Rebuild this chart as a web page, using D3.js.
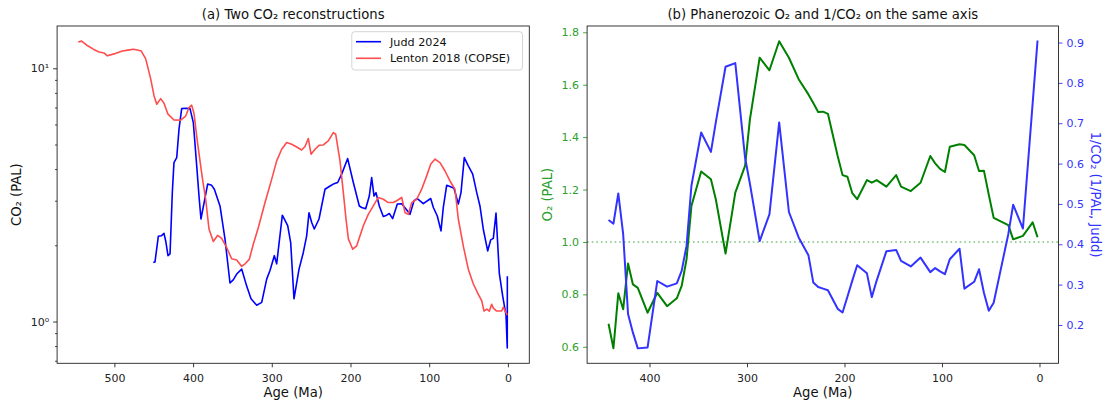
<!DOCTYPE html>
<html><head><meta charset="utf-8">
<script src="https://cdn.jsdelivr.net/npm/d3@7"></script>
<style>body{margin:0;background:#fff} text{font-family:"DejaVu Sans",sans-serif}</style>
</head><body><svg id="c" width="1106" height="404"></svg>
<script>
// ---------- data ----------
const juddAge=[450.6,448.4,444.2,440.4,437,434.8,431.9,429.3,426.4,424.3,420.8,417.9,414.5,409.4,403.9,399.7,395.4,392.5,390,381.5,376.4,373,365.8,359.5,353.1,349,344.6,338.2,331.9,326.4,319.2,312.8,306.5,302.3,296.8,293.8,286.6,279.8,276,271.8,265.4,260,255.7,252.7,249.3,246,240,232.4,226,221.8,216.3,211.2,203.6,196.4,188.8,185.8,180.7,176.1,173.1,170.1,167.6,163.4,158.3,154,150.7,146.4,140.5,134.9,129.5,124.4,119.3,115.1,107.5,98.1,94.7,89.7,85,82.1,77.8,73.6,68.5,63,59.6,55.4,50.3,44.7,39.6,35.5,31.3,25.7,21.9,18.5,15.1,10.9,6.6,2.4,0.8,0.7];
const juddCO2=[1.71,1.72,2.17,2.18,2.23,2.08,1.82,1.85,3.23,4.24,4.44,5.75,6.93,6.95,6.93,6.10,4.12,3.13,2.54,3.49,3.45,3.33,2.86,2.12,1.42,1.46,1.54,1.61,1.38,1.23,1.16,1.19,1.47,1.59,1.82,1.69,2.63,2.39,2.05,1.23,1.61,1.87,2.18,2.69,2.46,2.32,2.54,3.33,3.43,3.49,3.54,3.82,4.40,3.54,2.86,2.82,2.79,3.13,3.70,3.13,3.23,2.86,2.60,2.63,2.67,2.55,2.91,2.92,2.78,2.65,3.0,3.06,2.92,3.06,2.82,2.61,2.28,2.82,3.45,3.41,3.36,2.91,3.23,4.44,4.12,3.82,3.23,2.86,2.32,1.90,2.10,2.13,2.68,1.55,1.26,1.06,0.786,1.51];
const lentonAge=[545.9,541.6,534.4,526.8,519.6,513.2,509,500.5,490,482.7,476,470.9,465.8,460.2,453.8,449.6,446.2,441.2,437,431.9,424.3,415.8,409.4,405.2,401.8,398.9,394.7,388.3,384,379.8,374.3,368.7,363.7,357.3,351,344.6,338.2,334,328.6,323.5,317.1,308.6,300.1,293.8,287.4,281.1,274.7,268.4,262,257.8,253.6,250.1,245.1,239.6,234.5,228.2,221.8,218.8,213.3,209.1,205.7,202.7,197.2,192.1,187.9,183.7,177.4,171,164.7,158.3,152,145.6,141.3,134.9,130.7,126.5,122.2,115.9,109.5,103.2,98.1,92.6,86.3,79.9,73.6,67.2,63,56.7,50.3,44,37.6,33.3,30.4,26.9,23.6,20.6,18.5,14.2,7.9,5.8,0.8];
const lentonCO2=[12.7,12.8,12.3,11.9,11.6,11.5,11.2,11.4,11.7,11.8,11.9,11.8,11.7,10.9,9.06,7.78,7.21,7.59,7.28,6.59,6.25,6.24,6.48,7.0,7.15,6.65,5.17,3.70,3.04,2.32,2.07,2.19,2.13,1.96,1.77,1.75,1.65,1.69,1.76,2.02,2.35,2.95,3.65,4.31,4.79,5.09,5.01,4.89,4.76,4.91,5.28,4.58,4.79,4.97,4.98,5.17,5.57,5.49,4.30,3.23,2.54,2.12,1.93,1.99,2.18,2.39,2.65,2.86,3.09,3.04,2.95,2.95,3.0,3.09,2.69,2.65,2.95,3.04,3.33,3.76,4.18,4.38,4.24,3.93,3.59,3.33,2.54,1.99,1.61,1.41,1.28,1.21,1.10,1.12,1.10,1.17,1.13,1.10,1.10,1.14,1.06];
const phanAge=[442,437,432,427,422,417,412,402,392,382,372,367,362,357,347,337,332,322,312,302,297,287,277,267,257,247,237,232,227,222,217,207,202,197,192,187,177,172,167,157,147,142,132,122,112,107,102,97,92,82,77,67,62,57,52,47,32,27,17,7,2];
const o2PAL=[0.688,0.594,0.804,0.743,0.918,0.838,0.825,0.730,0.806,0.755,0.785,0.832,0.934,1.137,1.269,1.239,1.163,0.956,1.188,1.290,1.468,1.703,1.655,1.766,1.703,1.621,1.563,1.530,1.496,1.497,1.489,1.328,1.255,1.249,1.186,1.163,1.236,1.226,1.236,1.211,1.255,1.211,1.194,1.226,1.328,1.300,1.279,1.267,1.363,1.373,1.370,1.331,1.271,1.272,1.180,1.092,1.064,1.010,1.023,1.075,1.018];
const invCO2=[0.460,0.451,0.526,0.425,0.227,0.181,0.142,0.144,0.309,0.295,0.303,0.334,0.396,0.545,0.677,0.629,0.702,0.840,0.849,0.615,0.550,0.408,0.474,0.702,0.480,0.417,0.373,0.305,0.294,0.290,0.286,0.240,0.231,0.270,0.310,0.348,0.328,0.269,0.310,0.383,0.386,0.359,0.345,0.367,0.331,0.341,0.333,0.326,0.363,0.389,0.290,0.307,0.338,0.280,0.235,0.255,0.425,0.498,0.439,0.750,0.905];
const xTicksA=[500,400,300,200,100,0];
const xTicksB=[400,300,200,100,0];
const o2Ticks=[0.6,0.8,1.0,1.2,1.4,1.6,1.8];
const invTicks=[0.2,0.3,0.4,0.5,0.6,0.7,0.8,0.9];
const logMajor=[1,10];
const logMinor=[0.7,0.8,0.9,2,3,4,5,6,7,8,9];

// ---------- drawing ----------
const svg=d3.select("#c");
svg.append("rect").attr("width",1106).attr("height",404).attr("fill","#fff");
const defs=svg.append("defs");
function clip(id,x0,x1,y0,y1){defs.append("clipPath").attr("id",id).append("rect").attr("x",x0).attr("y",y0).attr("width",x1-x0).attr("height",y1-y0);}
function styleAxis(g,color,labelColor){
  g.select(".domain").remove();
  g.selectAll(".tick line").attr("stroke",color).attr("stroke-width",0.9);
  g.selectAll(".tick text").attr("fill",labelColor).attr("font-size",11).attr("font-family","DejaVu Sans");
}
const T=26,B=363.3;

// Panel A
const aL=57.1,aR=529.3;
const xA=d3.scaleLinear().domain([572.8,-27.2]).range([aL,aR]);
const yA=d3.scaleLog().domain([0.684,14.69]).range([B,T]);
clip("ca",aL,aR,T,B);
const gA=svg.append("g");
const lineA=d3.line().x(d=>xA(d[0])).y(d=>yA(d[1]));
const pA=gA.append("g").attr("clip-path","url(#ca)");
pA.append("path").attr("d",lineA(d3.zip(juddAge,juddCO2))).attr("fill","none").attr("stroke","#0000ff").attr("stroke-width",1.6).attr("stroke-linejoin","round");
pA.append("path").attr("d",lineA(d3.zip(lentonAge,lentonCO2))).attr("fill","none").attr("stroke","#ff4d4d").attr("stroke-width",1.6).attr("stroke-linejoin","round");
gA.append("g").attr("transform",`translate(0,${B})`).call(d3.axisBottom(xA).tickValues(xTicksA).tickSize(4).tickPadding(7).tickFormat(d3.format("d"))).call(g=>styleAxis(g,"#222","#222"));
gA.append("g").attr("transform",`translate(${aL},0)`).call(d3.axisLeft(yA).tickValues(logMajor).tickSize(4).tickPadding(4).tickFormat(d=>d===1?"10⁰":"10¹")).call(g=>styleAxis(g,"#222","#222"));
gA.append("g").attr("transform",`translate(${aL},0)`).call(d3.axisLeft(yA).tickValues(logMinor).tickSize(2).tickFormat("")).call(g=>styleAxis(g,"#222","#222"));
gA.append("rect").attr("x",aL).attr("y",T).attr("width",aR-aL).attr("height",B-T).attr("fill","none").attr("stroke","#222").attr("stroke-width",0.9);
gA.append("text").attr("x",(aL+aR)/2).attr("y",19).attr("text-anchor","middle").attr("font-size",13.2).attr("fill","#111").text("(a) Two CO₂ reconstructions");
gA.append("text").attr("x",(aL+aR)/2).attr("y",397).attr("text-anchor","middle").attr("font-size",13.2).attr("fill","#111").text("Age (Ma)");
gA.append("text").attr("transform",`translate(21,${(T+B)/2}) rotate(-90)`).attr("text-anchor","middle").attr("font-size",13.2).attr("fill","#111").text("CO₂ (PAL)");
// legend
const lg=gA.append("g");
lg.append("rect").attr("x",351.8).attr("y",31.7).attr("width",170.7).attr("height",38.3).attr("rx",3).attr("fill","#fff").attr("fill-opacity",0.8).attr("stroke","#d0d0d0").attr("stroke-width",0.9);
[["Judd 2024","#0000ff",41.7],["Lenton 2018 (COPSE)","#ff4d4d",58.3]].forEach(([t,c,y])=>{
  lg.append("line").attr("x1",356).attr("x2",381).attr("y1",y).attr("y2",y).attr("stroke",c).attr("stroke-width",1.6);
  lg.append("text").attr("x",390).attr("y",y+4).attr("font-size",11.2).attr("fill","#111").text(t);
});

// Panel B
const bL=587.1,bR=1058.5;
const xB=d3.scaleLinear().domain([464,-19.5]).range([bL,bR]);
const yO=d3.scaleLinear().domain([0.537,1.824]).range([B,T]);
const yI=d3.scaleLinear().domain([0.105,0.941]).range([B,T]);
clip("cb",bL,bR,T,B);
const gB=svg.append("g");
const pB=gB.append("g").attr("clip-path","url(#cb)");
pB.append("line").attr("x1",bL).attr("x2",bR).attr("y1",yO(1)).attr("y2",yO(1)).attr("stroke","#7fc07f").attr("stroke-width",1.5).attr("stroke-dasharray","1.6,3");
pB.append("path").attr("d",d3.line().x(d=>xB(d[0])).y(d=>yO(d[1]))(d3.zip(phanAge,o2PAL))).attr("fill","none").attr("stroke","#008000").attr("stroke-width",2).attr("stroke-linejoin","round");
pB.append("path").attr("d",d3.line().x(d=>xB(d[0])).y(d=>yI(d[1]))(d3.zip(phanAge,invCO2))).attr("fill","none").attr("stroke","#3333ff").attr("stroke-width",2).attr("stroke-linejoin","round");
gB.append("g").attr("transform",`translate(0,${B})`).call(d3.axisBottom(xB).tickValues(xTicksB).tickSize(4).tickPadding(7).tickFormat(d3.format("d"))).call(g=>styleAxis(g,"#222","#222"));
gB.append("g").attr("transform",`translate(${bL},0)`).call(d3.axisLeft(yO).tickValues(o2Ticks).tickSize(4).tickPadding(4).tickFormat(d3.format(".1f"))).call(g=>styleAxis(g,"#2ca02c","#2ca02c"));
gB.append("g").attr("transform",`translate(${bR},0)`).call(d3.axisRight(yI).tickValues(invTicks).tickSize(4).tickPadding(4).tickFormat(d3.format(".1f"))).call(g=>styleAxis(g,"#3333ff","#3333ff"));
gB.append("rect").attr("x",bL).attr("y",T).attr("width",bR-bL).attr("height",B-T).attr("fill","none").attr("stroke","#222").attr("stroke-width",0.9);
gB.append("text").attr("x",(bL+bR)/2).attr("y",19).attr("text-anchor","middle").attr("font-size",13.2).attr("fill","#111").text("(b) Phanerozoic O₂ and 1/CO₂ on the same axis");
gB.append("text").attr("x",(bL+bR)/2).attr("y",397).attr("text-anchor","middle").attr("font-size",13.2).attr("fill","#111").text("Age (Ma)");
gB.append("text").attr("transform",`translate(552,${(T+B)/2}) rotate(-90)`).attr("text-anchor","middle").attr("font-size",13.2).attr("fill","#2ca02c").text("O₂ (PAL)");
gB.append("text").attr("transform",`translate(1091,${(T+B)/2}) rotate(90)`).attr("text-anchor","middle").attr("font-size",13.2).attr("fill","#3333ff").text("1/CO₂ (1/PAL, Judd)");
</script></body></html>
